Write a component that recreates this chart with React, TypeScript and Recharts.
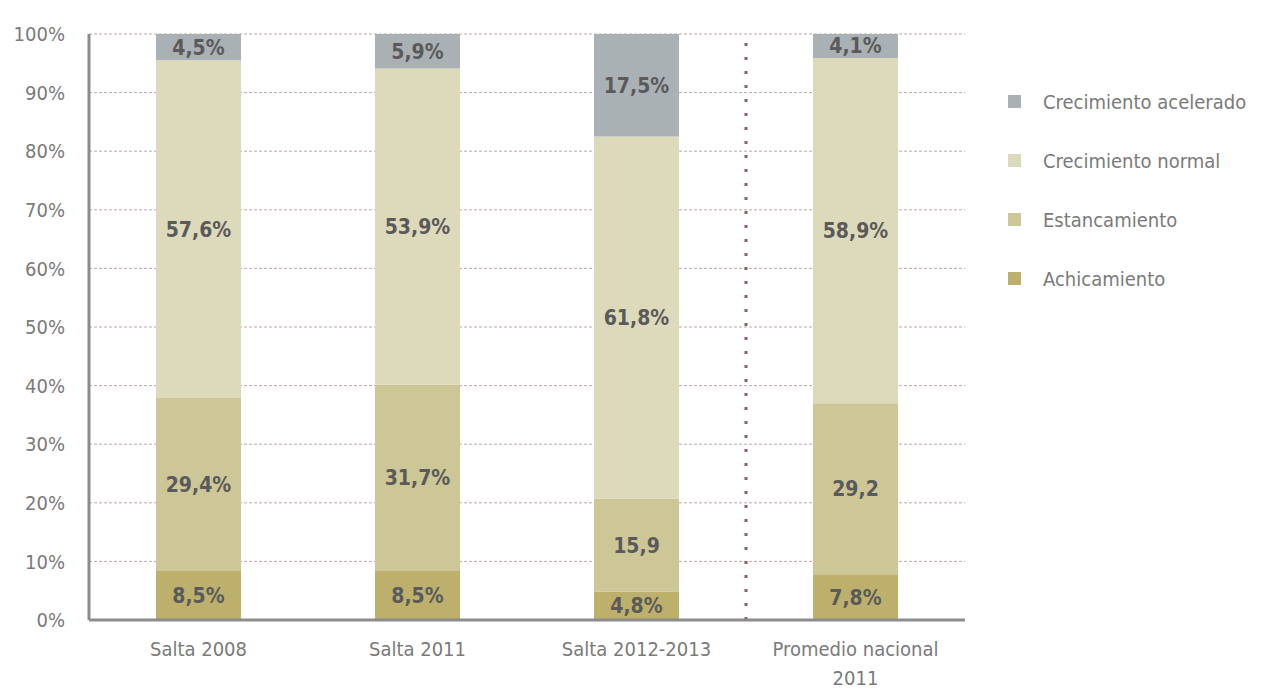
import {
  BarChart,
  Bar,
  XAxis,
  YAxis,
  CartesianGrid,
  LabelList,
  ReferenceLine,
} from "recharts";

/* ── Categorías y series (% de niños) ── */
const categories = ["Salta 2008", "Salta 2011", "Salta 2012-2013", "Promedio nacional\n2011"];
const achicamiento = [8.5, 8.5, 4.8, 7.8];
const estancamiento = [29.4, 31.7, 15.9, 29.2];
const normal = [57.6, 53.9, 61.8, 58.9];
const acelerado = [4.5, 5.9, 17.5, 4.1];

const achicamientoLabels = ["8,5%", "8,5%", "4,8%", "7,8%"];
const estancamientoLabels = ["29,4%", "31,7%", "15,9", "29,2"];
const normalLabels = ["57,6%", "53,9%", "61,8%", "58,9%"];
const aceleradoLabels = ["4,5%", "5,9%", "17,5%", "4,1%"];

const yTicks = [0, 10, 20, 30, 40, 50, 60, 70, 80, 90, 100];

const FONT = "'Liberation Sans Narrow', 'DejaVu Sans Condensed', 'Roboto Condensed', sans-serif";

const SERIES = [
  { key: "acelerado", name: "Crecimiento acelerado", color: "#aab1b4" },
  { key: "normal", name: "Crecimiento normal", color: "#ddd9bb" },
  { key: "estancamiento", name: "Estancamiento", color: "#cdc696" },
  { key: "achicamiento", name: "Achicamiento", color: "#bdb06c" },
];

const data = categories.map((name, i) => ({
  name,
  pos: i + 0.5,
  achicamiento: achicamiento[i],
  estancamiento: estancamiento[i],
  normal: normal[i],
  acelerado: acelerado[i],
  achicamientoLabel: achicamientoLabels[i],
  estancamientoLabel: estancamientoLabels[i],
  normalLabel: normalLabels[i],
  aceleradoLabel: aceleradoLabels[i],
}));

/* eslint-disable @typescript-eslint/no-explicit-any */
function CatTick({ x, y, payload }: any) {
  const lines = String(payload.value).split("\n");
  return (
    <text x={x} y={y} textAnchor="middle" fill="#7a7a7a" fontFamily={FONT} fontSize={20}>
      {lines.map((l, i) => (
        <tspan key={i} x={x} dy={i === 0 ? 28 : 29}>
          {l}
        </tspan>
      ))}
    </text>
  );
}

function SideLegend() {
  return (
    <div style={{ position: "absolute", left: 1008, top: 72, fontFamily: FONT }}>
      {SERIES.map((s) => (
        <div key={s.key} style={{ display: "flex", alignItems: "center", height: 59 }}>
          <span style={{ width: 13, height: 13, background: s.color, marginRight: 22, display: "inline-block" }} />
          <span style={{ color: "#7a7a7a", fontSize: 20 }}>{s.name}</span>
        </div>
      ))}
    </div>
  );
}

const labelStyle = { fill: "#5a5a5a", fontFamily: FONT, fontSize: 21, fontWeight: 700 };

export default function App() {
  return (
    <div style={{ position: "absolute", left: 0, top: 0, width: 1282, height: 695, background: "#fff" }}>
      <BarChart
        width={1282}
        height={695}
        data={data}
        margin={{ top: 34, right: 317, bottom: 0, left: 0 }}
        barSize={85}
      >
        <CartesianGrid stroke="#bfa9a9" strokeDasharray="3 2" vertical={false} />
        <XAxis
          dataKey="name"
          height={75}
          tick={<CatTick />}
          tickLine={false}
          axisLine={{ stroke: "#8c8c8c", strokeWidth: 3 }}
          interval={0}
        />
        <XAxis xAxisId="num" dataKey="pos" type="number" domain={[0, 4]} hide />
        <YAxis
          width={89}
          domain={[0, 100]}
          ticks={yTicks}
          tickFormatter={(v) => `${v}%`}
          tick={{ fill: "#7a7a7a", fontFamily: FONT, fontSize: 20 }}
          tickLine={false}
          axisLine={{ stroke: "#8c8c8c", strokeWidth: 3 }}
          tickMargin={18}
        />
        <ReferenceLine xAxisId="num" x={3} stroke="#8a6060" strokeWidth={3} strokeDasharray="3 11" />
        <Bar dataKey="achicamiento" name="Achicamiento" stackId="a" fill="#bdb06c" isAnimationActive={false}>
          <LabelList dataKey="achicamientoLabel" position="center" style={labelStyle} />
        </Bar>
        <Bar dataKey="estancamiento" name="Estancamiento" stackId="a" fill="#cdc696" isAnimationActive={false}>
          <LabelList dataKey="estancamientoLabel" position="center" style={labelStyle} />
        </Bar>
        <Bar dataKey="normal" name="Crecimiento normal" stackId="a" fill="#ddd9bb" isAnimationActive={false}>
          <LabelList dataKey="normalLabel" position="center" style={labelStyle} />
        </Bar>
        <Bar dataKey="acelerado" name="Crecimiento acelerado" stackId="a" fill="#aab1b4" isAnimationActive={false}>
          <LabelList dataKey="aceleradoLabel" position="center" style={labelStyle} />
        </Bar>
      </BarChart>
      <SideLegend />
    </div>
  );
}
